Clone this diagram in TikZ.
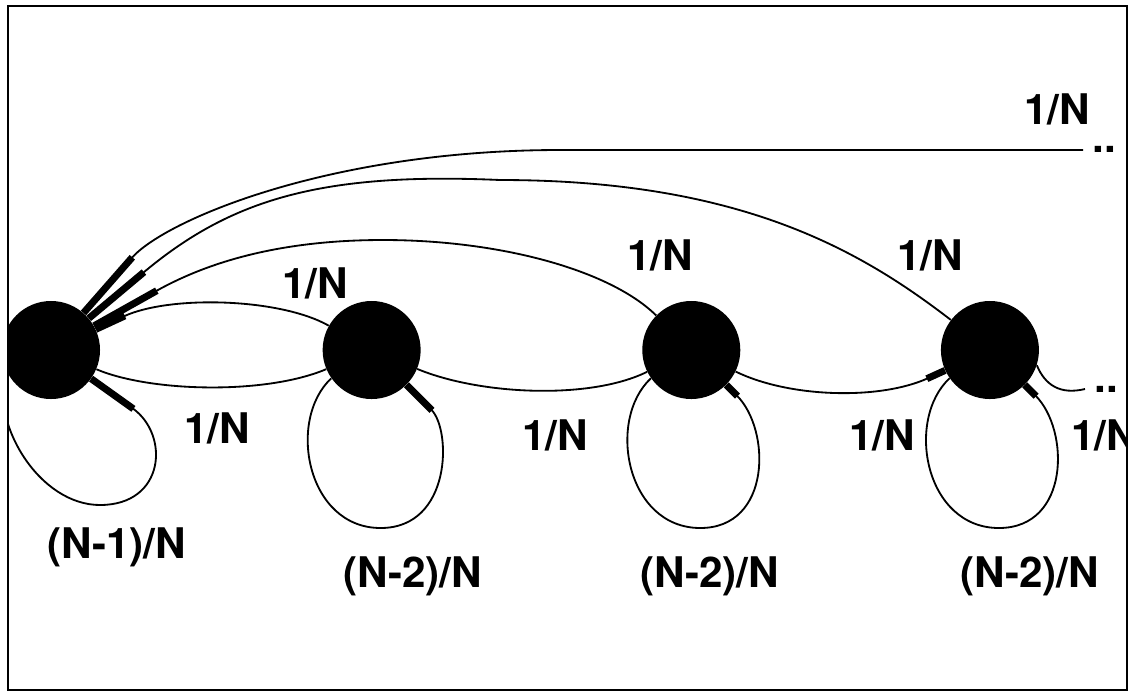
\documentclass[tikz,border=0pt]{standalone}
\usepackage{fontspec}
\setmainfont{TeX Gyre Heros}
\usetikzlibrary{positioning}
\usetikzlibrary{arrows.meta}
\usetikzlibrary{calc}
\tikzset{
thinline/.style={line width=1.3pt},
state/.style={circle, fill=black, draw=none, inner sep=0pt, minimum size=2.45cm},
prob/.style={font=\fontsize{30}{34}\selectfont\bfseries, inner sep=0pt, anchor=base},
more/.style={font=\fontsize{30}{34}\selectfont\bfseries, inner sep=0pt, anchor=base west},
link/.style={thinline},
stub/.style={thinline, -{Rectangle[length=#1, width=5pt]}},
}

\begin{document}
\begin{tikzpicture}[x=0.025cm, y=0.025cm]
\useasboundingbox (0,0) rectangle (1129,-693);
\draw[line width=2.1pt] (8,-6) rectangle (1127,-690);
\begin{scope}
\clip (8,-6) rectangle (1127,-690);

\node[state] (n1) at (51,-350) {};
\node[state, right=5.55cm of n1] (n2) {};
\node[state, right=5.525cm of n2] (n3) {};
\node[state, right=5cm of n3] (n4) {};

\coordinate (far) at (1083,-150);
\coordinate (next) at (1085,-389);

%
\draw[stub=1.85cm] (far) -- (560,-150) .. controls (330,-150) and (165,-220) .. (n1);
\draw[stub=1.8cm] (n4) .. controls (860,-250) and (740,-180) .. (500,-180)
    .. controls (320,-172) and (230,-200) .. (n1);
\draw[stub=1.8cm] (n3) .. controls (610,-270) and (500,-240) .. (383,-240)
    .. controls (290,-240) and (215,-258) .. (n1);
\draw[stub=0.8cm] (n2) .. controls (280,-298) and (170,-295) .. (n1);

%
\draw[link] (n1) .. controls (150,-392) and (265,-395) .. (n2);
\draw[link] (n2) .. controls (480,-395) and (590,-400) .. (n3);
\draw[stub=0.5cm] (n3) .. controls (790,-398) and (880,-400) .. (n4);
\draw[link] (n4.-18) .. controls (1045,-385) and (1060,-395) .. (next);

%
\draw[stub=1.3cm] (n1.200) .. controls (-10,-425) and (40,-505) .. (100,-505)
    .. controls (165,-505) and (170,-435) .. (n1);
\foreach \s/\len in {n2/0.9cm, n3/0.4cm, n4/0.4cm}
  \draw[stub=\len] (\s.215) .. controls ($(\s)+(-85,-70)$) and ($(\s)+(-65,-178)$) .. ($(\s)+(9,-178)$)
      .. controls ($(\s)+(80,-178)$) and ($(\s)+(80,-80)$) .. (\s);

\node[more] (d1) at (1092,-152) {..};
\node[more] (d2) at (1094,-392) {..};

\node[prob] (q0) at (1057,-124) {1/N};
\node[prob] (q1) at (315,-298) {1/N};
\node[prob] (q2) at (660,-270) {1/N};
\node[prob] (q3) at (930,-270) {1/N};
\node[prob] (q4) at (217,-443) {1/N};
\node[prob] (q5) at (555,-450) {1/N};
\node[prob] (q6) at (882,-450) {1/N};
\node[prob] (q7) at (1104,-450) {1/N};

\node[prob] (r1) at (117,-558) {(N-1)/N};
\node[prob] (r2) at (413,-587) {(N-2)/N};
\node[prob] (r3) at (710,-587) {(N-2)/N};
\node[prob] (r4) at (1030,-587) {(N-2)/N};
\end{scope}
\end{tikzpicture}
\end{document}
